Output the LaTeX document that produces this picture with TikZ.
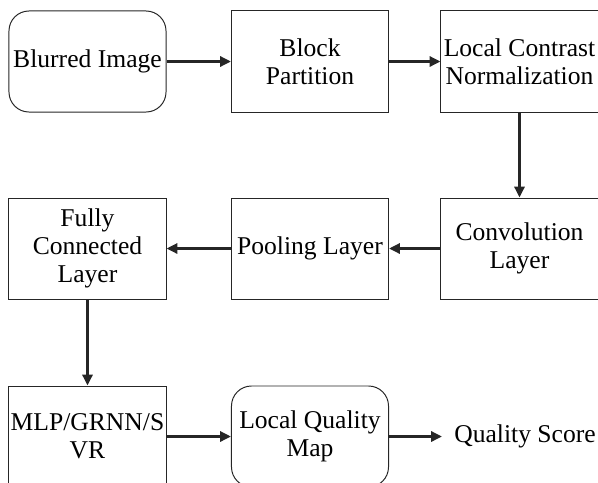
\documentclass[tikz,border=0pt]{standalone}
\usepackage{fontspec}
\setmainfont{Liberation Serif}
\usetikzlibrary{arrows.meta,positioning}

\begin{document}
\begin{tikzpicture}[
    x=0.025cm, y=-0.025cm,
    font=\rmfamily\fontsize{18.2}{20}\selectfont,
    % Box style for the pipeline stages
    stage/.style={rectangle, draw=black!85, line width=0.7pt, minimum width=3.925cm, minimum height=2.525cm, inner sep=1pt, align=center},
    % Rounded box for input / output maps
    roundstage/.style={stage, rounded corners=0.5cm},
    % Thick arrow between stages
    flow/.style={-{Triangle[length=0.27cm, width=0.25cm]}, line width=2.1pt, black!85}
]
    \clip (0,0) rectangle (598,482);

    % --- ROW 1 ---
    \node[roundstage] (blur) at (87.5, 61.5) {Blurred Image};
    \node[stage] (block) at (310, 61.5) {Block\\Partition};
    \node[stage] (lcn) at (519.5, 61.5) {Local Contrast\\Normalization};

    % --- ROW 2 ---
    \node[stage] (fc) at (87.5, 248.5) {Fully\\Connected\\Layer};
    \node[stage] (pool) at (310, 248.5) {Pooling Layer};
    \node[stage] (conv) at (519.5, 248.5) {Convolution\\Layer};

    % --- ROW 3 ---
    \node[stage] (mlp) at (87.5, 436.5) {MLP/GRNN/S\\VR};
    \node[roundstage] (lqm) at (310, 436.5) {Local Quality\\Map};
    \node[anchor=west, inner xsep=0.3cm, inner ysep=0pt] (score) at (442, 436.5) {Quality Score};

    % Arrows
    \draw[flow] (blur) -- (block);
    \draw[flow] (block) -- (lcn);
    \draw[flow] (lcn) -- (conv);
    \draw[flow] (conv) -- (pool);
    \draw[flow] (pool) -- (fc);
    \draw[flow] (fc) -- (mlp);
    \draw[flow] (mlp) -- (lqm);
    \draw[flow] (lqm) -- (score);

\end{tikzpicture}
\end{document}
